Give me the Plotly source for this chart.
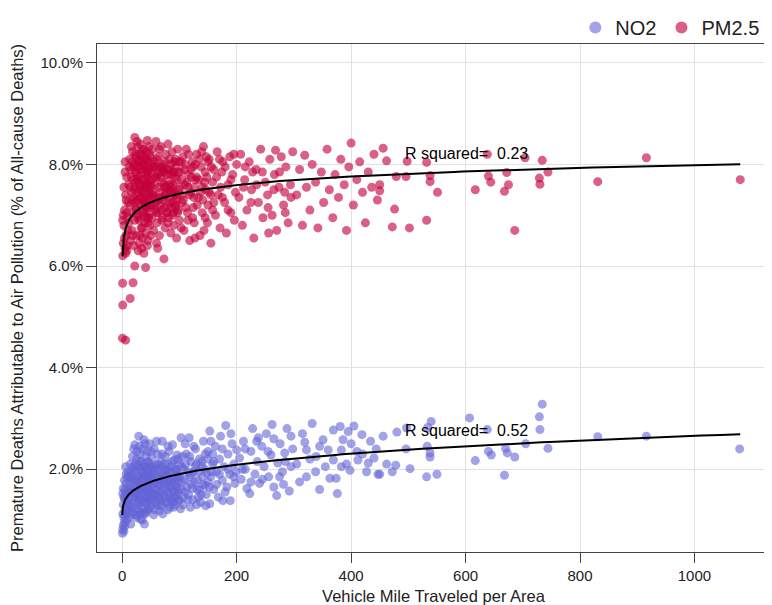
import numpy as np
import plotly.graph_objects as go

# ---------------- data ----------------
no2_points = [
    # x 0-10
    (0.5,0.74),(1,0.82),(1,1.12),(2,0.90),(2,1.30),(3,0.78),(3,1.05),(4,0.95),(4,1.42),(5,1.18),
    (5,1.60),(6,1.08),(6,1.50),(7,1.25),(7,1.72),(8,1.00),(8,1.38),(9,1.55),(9,1.85),(10,1.20),
    (10,1.95),(2,1.62),(4,1.78),(6,2.05),(8,1.12),(3,1.45),(5,0.88),(7,1.90),(9,1.32),(1,1.52),
    # x 10-50
    (11,1.05),(12,1.40),(13,1.75),(14,2.10),(15,0.92),(15,1.55),(16,1.25),(17,1.90),(18,1.60),(18,2.25),
    (19,1.15),(20,1.45),(20,1.80),(21,2.00),(22,2.48),(22,1.30),(23,1.65),(24,1.10),(24,1.95),(25,1.50),
    (25,2.20),(26,1.75),(27,1.35),(28,2.05),(28,1.58),(29,2.65),(29,1.20),(30,1.85),(30,1.45),(31,2.30),
    (32,1.68),(32,1.02),(33,1.95),(34,1.40),(34,2.15),(35,1.78),(35,1.25),(36,2.40),(36,1.60),(37,1.90),
    (38,2.58),(38,1.50),(39,0.92),(39,2.10),(40,1.70),(40,1.35),(41,2.25),(41,1.85),(42,1.55),(42,1.15),
    (43,2.00),(44,1.65),(44,2.35),(45,1.42),(45,1.92),(46,1.75),(46,1.22),(47,2.12),(47,1.58),(48,1.88),
    (48,2.50),(49,1.38),(49,1.68),(50,2.05),(50,1.48),(26,2.35),(33,1.12),(43,1.30),(37,1.15),(31,1.62),
    (11,1.60),(12,1.85),(13,1.30),(14,1.65),(16,1.95),(17,1.45),(18,1.80),(19,2.05),(21,1.55),(22,1.75),
    (23,2.10),(24,1.50),(26,1.45),(27,1.85),(28,1.30),(29,1.70),(30,2.15),(31,1.40),(32,2.00),(33,1.60),
    (34,1.80),(35,2.05),(36,1.35),(37,1.65),(38,1.85),(39,1.45),(40,2.05),(41,1.60),(42,1.90),(43,1.45),
    (44,1.85),(45,2.15),(46,1.55),(47,1.80),(48,1.40),(49,2.00),(15,1.20),(20,1.10),(25,1.05),(30,1.15),
    (35,1.00),(40,1.12),(45,1.20),(20,2.40),(30,2.45),(40,2.50),
    # x 50-100
    (51,1.80),(52,2.22),(53,1.35),(54,1.62),(55,1.95),(56,2.40),(57,1.20),(58,1.75),(59,2.08),(60,1.50),
    (61,1.88),(62,2.30),(63,1.40),(64,1.68),(65,2.00),(66,1.28),(67,2.15),(68,1.58),(69,1.85),(70,2.55),
    (71,1.12),(72,1.72),(73,1.98),(74,1.45),(75,2.25),(76,1.62),(77,1.90),(78,1.35),(79,2.10),(80,1.78),
    (81,1.52),(82,2.35),(83,1.25),(84,1.95),(85,1.65),(86,2.05),(87,1.42),(88,2.48),(89,1.82),(90,1.55),
    (91,2.18),(92,1.30),(93,1.72),(94,2.00),(95,1.48),(96,2.28),(97,1.88),(98,1.60),(99,1.38),(100,2.10),
    (55,1.50),(65,1.70),(75,1.85),(85,1.38),(95,1.95),
    (51,1.55),(52,1.75),(53,2.05),(54,1.90),(56,1.70),(57,1.50),(58,2.00),(59,1.35),(61,1.60),(62,1.85),
    (63,2.10),(64,1.45),(66,1.80),(67,1.55),(68,2.05),(69,1.40),(71,1.90),(72,1.50),(73,1.75),(74,2.10),
    (76,1.35),(77,1.70),(78,2.00),(79,1.55),(81,1.95),(82,1.65),(83,1.80),(84,1.45),(86,1.75),(87,2.15),
    (88,1.60),(89,1.35),(91,1.75),(92,2.00),(93,1.45),(94,1.65),(96,1.85),(97,1.55),(98,2.20),(99,1.75),
    (50,1.25),(55,1.10),(60,1.30),(65,1.18),(70,1.28),(80,1.20),(90,1.25),(100,1.40),(50,2.35),(60,2.55),
    (70,2.30),(80,2.45),
    # x 100-200
    (102,1.22),(103,2.62),(105,1.75),(108,2.00),(110,1.55),(112,2.30),(115,1.40),(117,2.62),(118,1.85),(120,2.15),
    (123,1.62),(125,1.95),(128,2.40),(130,1.30),(132,1.78),(135,2.20),(138,1.50),(140,2.05),(142,2.55),(145,1.68),
    (148,1.92),(150,2.35),(153,1.32),(153,2.75),(155,1.85),(158,2.10),(160,1.60),(163,2.45),(165,1.95),(168,1.45),
    (170,2.20),(172,2.65),(175,1.78),(176,1.38),(178,2.05),(181,2.86),(183,1.65),(185,2.30),(188,1.90),(189,1.38),
    (192,2.50),(195,2.10),(197,1.72),(200,2.38),(199,1.95),
    (105,2.25),(110,2.50),(115,1.95),(120,1.70),(125,2.45),(130,2.10),(135,1.60),(140,1.85),(145,2.30),(150,1.75),
    (155,2.55),(160,2.15),(165,1.70),(170,1.90),(175,2.40),(180,1.55),(185,2.00),(190,2.70),(195,1.85),
    (101,1.85),(103,1.60),(104,2.05),(107,1.45),(109,1.80),(111,2.10),(113,1.65),(116,1.50),(118,2.25),(121,1.90),
    (123,1.40),(126,1.75),(128,2.05),(131,1.60),(134,1.95),(137,1.35),(139,2.15),(141,1.70),(144,2.00),(147,1.50),
    (149,2.20),(152,1.65),(156,1.95),(158,2.30),(106,1.30),(119,1.25),(133,1.45),(146,1.28),
    # x 200-300
    (205,2.22),(208,1.80),(212,2.55),(215,2.00),(218,1.62),(223,1.52),(225,2.35),(228,2.80),(232,1.90),(236,2.15),
    (240,1.72),(244,2.45),(248,2.05),(252,2.70),(256,1.85),(260,2.28),(265,1.65),(270,1.48),(272,2.12),(276,2.50),
    (280,1.95),(284,2.32),(288,2.80),(292,1.57),(295,2.05),(298,2.40),(262,2.88),(238,2.62),(282,1.70),(210,2.00),
    (215,2.40),(225,1.75),(235,2.55),(245,1.80),(255,2.35),(265,2.60),(275,1.85),(285,2.15),(295,2.65),
    # x 300-450
    (319,2.53),(322,2.38),(322,1.85),(332,2.90),(338,1.95),(339,2.25),(345,1.60),(351,2.58),(360,2.38),(363,1.82),
    (369,2.77),(369,2.18),(374,1.82),(376,1.52),(381,2.84),(383,2.38),(383,2.05),(386,2.58),(395,2.74),(398,1.98),
    (410,2.35),(412,2.18),(419,2.68),(427,1.95),(430,2.12),(434,2.55),(440,2.22),(444,2.40),(447,1.90),(305,2.10),
    (310,1.75),(315,2.70),(328,2.20),(355,2.05),(392,2.10),(405,2.85),(400,2.50),(420,2.30),(345,2.45),
    # x 450+
    (450,1.90),(456,2.65),(462,2.10),(472,1.95),(478,2.08),(480,2.73),(496,2.40),(497,2.81),(503,2.01),(532,1.85),
    (533,2.45),(534,2.82),(538,2.24),(538,2.32),(540,2.94),(550,1.90),(607,3.01),(617,2.17),(638,2.78),(640,2.35),
    (645,2.28),(668,1.88),(670,2.41),(673,2.32),(686,2.24),(705,2.50),(729,3.03),(730,2.78),(734,3.28),(744,2.41),
    (831,2.64),(916,2.65),(1079,2.40),
]

pm25_points = [
    # low outliers / x 0-10
    (0.5,4.58),(6,4.54),(1,5.23),(14,5.36),(0.8,5.66),(19,5.67),(22,6.00),(41,5.97),
    (1,6.20),(2,6.45),(3,6.80),(4,7.10),(5,6.35),(6,7.40),(7,6.60),(8,7.75),(9,6.95),(10,7.25),
    (2,7.00),(4,6.55),(6,6.25),(8,7.05),(3,7.55),(5,7.85),(7,7.30),(9,6.40),(10,6.70),(1,6.90),(5,8.05),(8,6.30),
    # x 10-50
    (11,7.60),(12,6.85),(13,8.10),(14,7.20),(15,6.50),(15,7.90),(16,7.45),(17,6.70),(18,8.25),(18,7.05),
    (19,7.70),(20,6.40),(20,7.35),(21,8.00),(22,8.53),(22,6.90),(23,7.55),(24,7.15),(24,8.15),(25,6.60),
    (25,7.80),(26,7.30),(27,8.35),(27,6.95),(28,7.65),(29,7.00),(29,8.05),(30,6.45),(30,7.50),(31,7.90),
    (32,7.20),(32,8.40),(33,6.75),(33,7.70),(34,8.20),(35,7.05),(35,7.45),(36,6.55),(36,8.00),(37,7.85),
    (38,7.25),(38,8.30),(39,6.85),(39,7.60),(40,8.10),(40,7.40),(41,6.65),(41,7.95),(42,7.15),(42,8.25),
    (43,7.55),(43,6.95),(44,8.47),(44,7.75),(45,7.30),(45,6.50),(46,8.05),(46,7.60),(47,7.00),(47,8.35),
    (48,7.45),(48,6.80),(49,7.90),(49,8.15),(50,7.20),(50,6.60),(28,6.30),(34,6.35),(16,8.35),(26,8.45),
    (38,6.25),(44,6.40),(20,7.95),(31,6.60),(37,7.10),(42,7.80),(47,7.70),(23,8.20),(35,8.28),(49,7.35),
    (12,7.95),(14,7.55),(16,7.75),(17,8.05),(19,7.30),(21,7.50),(23,7.85),(24,7.65),(26,7.95),(27,7.45),
    (28,8.10),(29,7.75),(30,8.20),(31,7.35),(32,7.60),(33,8.05),(34,7.50),(35,7.90),(36,7.30),(37,8.15),
    (38,7.70),(39,8.00),(40,7.55),(41,7.25),(42,7.60),(43,8.10),(44,7.15),(45,7.85),(46,7.40),(47,7.95),
    (48,8.20),(49,7.55),(25,7.10),(30,6.90),(35,6.75),(40,7.00),(45,6.85),(18,6.60),(22,7.25),(27,7.70),
    (33,7.35),(39,7.20),(46,6.95),
    # x 50-100
    (51,7.85),(52,6.95),(53,8.30),(54,7.40),(55,6.70),(56,8.05),(57,7.60),(58,7.10),(59,8.45),(60,7.75),
    (61,6.85),(62,7.30),(63,8.15),(64,7.55),(65,6.60),(66,7.95),(67,7.20),(68,8.35),(69,6.90),(70,7.65),
    (71,8.00),(72,7.35),(73,6.14),(74,7.85),(75,6.75),(76,8.20),(77,7.45),(78,7.05),(79,7.90),(80,8.40),
    (81,6.95),(82,7.50),(83,8.10),(84,7.25),(85,6.65),(86,7.80),(87,8.25),(88,7.00),(89,7.60),(90,6.80),
    (91,8.05),(92,7.40),(93,7.15),(94,7.95),(95,6.55),(96,7.70),(97,8.30),(98,7.10),(99,7.50),(100,6.90),
    (55,7.20),(60,6.45),(65,8.30),(70,6.95),(75,7.55),(80,7.20),(85,7.45),(90,7.85),(95,7.30),(62,6.35),
    (51,7.15),(52,7.70),(53,7.45),(54,8.00),(56,7.35),(57,7.95),(58,7.75),(59,7.25),(61,8.10),(62,7.80),
    (63,7.05),(64,7.90),(66,7.45),(67,7.75),(68,7.10),(69,7.95),(71,7.30),(72,7.90),(73,7.60),(74,7.15),
    (76,7.40),(77,7.80),(78,7.55),(79,7.05),(81,7.70),(82,7.90),(83,7.35),(84,7.60),(86,7.15),(87,7.55),
    (88,7.85),(89,7.25),(91,7.45),(92,7.75),(93,8.10),(94,7.20),(96,7.40),(97,7.05),(98,7.85),(99,8.05),
    (50,7.60),(55,7.95),(60,7.05),(65,7.35),(70,7.85),(75,8.05),(80,6.85),(85,8.00),(90,7.05),
    # x 100-200
    (102,7.85),(104,7.25),(106,8.15),(108,6.70),(110,7.60),(112,8.30),(114,7.05),(116,7.80),(118,6.50),(120,7.45),
    (122,8.05),(124,7.15),(126,6.85),(128,7.70),(130,8.20),(133,7.35),(136,6.60),(138,7.95),(140,7.55),(142,8.35),
    (145,6.95),(148,7.75),(150,7.20),(152,8.10),(155,6.45),(158,7.65),(160,7.90),(163,7.00),(166,8.25),(168,7.40),
    (171,6.75),(174,7.85),(176,8.05),(179,7.25),(182,6.65),(185,7.60),(188,8.15),(190,7.05),(193,7.80),(196,6.90),
    (198,7.45),(200,8.00),(172,7.55),(146,7.50),(124,7.95),
    (105,7.40),(110,8.00),(115,7.55),(120,7.90),(125,7.35),(130,7.75),(135,8.10),(140,7.05),(145,7.85),(150,8.05),
    (155,7.40),(160,7.25),(165,7.75),(170,8.10),(175,7.35),(180,7.95),(185,7.10),(190,7.70),(195,8.20),
    (101,7.55),(103,8.05),(104,7.70),(107,7.30),(109,7.90),(111,7.15),(113,7.65),(116,8.20),(118,7.40),(121,7.75),
    (123,6.95),(126,7.55),(128,8.00),(131,7.20),(134,7.70),(137,7.45),(139,8.25),(141,7.30),(144,7.65),(147,8.15),
    (149,6.85),(152,7.45),(156,7.95),(158,7.10),(103,6.75),(115,6.90),(127,6.55),(143,6.70),
    # x 200-300
    (204,7.35),(207,8.20),(210,6.80),(214,7.70),(218,7.10),(222,8.05),(226,7.50),(230,6.55),(234,7.90),(238,7.25),
    (242,8.30),(246,6.95),(250,7.65),(254,7.40),(258,8.10),(262,7.00),(266,7.80),(270,6.70),(274,7.55),(278,8.15),
    (282,7.20),(286,7.95),(290,6.85),(294,7.60),(298,8.25),(228,7.85),(256,6.65),(284,7.45),(212,7.55),(268,8.28),
    (215,7.95),(225,7.25),(235,7.60),(245,7.85),(255,7.15),(265,7.50),(275,7.85),(285,7.05),(295,7.35),
    # x 300-450
    (305,7.40),(310,7.90),(315,6.80),(319,8.18),(322,7.55),(328,7.10),(332,8.00),(338,7.65),(342,6.75),(348,7.85),
    (352,7.25),(358,8.30),(362,7.50),(368,6.95),(372,7.80),(378,7.35),(382,8.10),(388,7.60),(392,6.70),(396,7.95),
    (400,8.42),(404,7.20),(410,7.70),(415,8.05),(420,7.45),(425,6.85),(430,7.85),(436,7.55),(440,8.20),(446,7.30),
    # x 450+
    (450,7.48),(450,7.60),(456,8.32),(462,8.07),(472,6.77),(476,7.12),(479,7.76),(496,7.76),(498,8.06),(502,6.75),
    (532,8.04),(532,6.90),(538,7.78),(538,7.66),(551,7.45),(617,7.50),(638,8.20),(640,7.77),(644,7.65),(668,7.47),
    (672,7.84),(675,7.60),(686,6.70),(704,8.13),(729,7.73),(730,7.61),(734,8.08),(744,7.85),(831,7.66),(916,8.13),
    (1080,7.70),
]

# fitted-curve parameters
pm25_fit = {"a": 6.30, "b": 0.244, "xmin": 0.64, "xmax": 1080}          # y = a + b*ln(x)
no2_fit = {"a": 0.941, "b": 0.305, "c": 0.25, "xmin": 0.07, "xmax": 1080}  # y = a + b*x^c

r2_labels = [("R squared=  0.23", 601, 8.21), ("R squared=  0.52", 601, 2.77)]

x_ticks = [0, 200, 400, 600, 800, 1000]
y_ticks = [2, 4, 6, 8, 10]

# ---------------- figure ----------------
no2_x, no2_y = zip(*no2_points)
pm_x, pm_y = zip(*pm25_points)

FONT = "Arial, 'Liberation Sans', sans-serif"

fig = go.Figure()
fig.add_trace(go.Scatter(
    x=no2_x, y=no2_y, mode="markers", name="NO2",
    marker=dict(color="rgb(100,100,215)", size=9, opacity=0.6, line=dict(width=0)),
))
fig.add_trace(go.Scatter(
    x=pm_x, y=pm_y, mode="markers", name="PM2.5",
    marker=dict(color="rgb(196,0,58)", size=9, opacity=0.62, line=dict(width=0)),
))

xf = np.geomspace(pm25_fit["xmin"], pm25_fit["xmax"], 300)
fig.add_trace(go.Scatter(
    x=xf, y=pm25_fit["a"] + pm25_fit["b"] * np.log(xf), mode="lines",
    line=dict(color="black", width=2), showlegend=False, hoverinfo="skip",
))
xn = np.geomspace(no2_fit["xmin"], no2_fit["xmax"], 300)
fig.add_trace(go.Scatter(
    x=xn, y=no2_fit["a"] + no2_fit["b"] * xn ** no2_fit["c"], mode="lines",
    line=dict(color="black", width=2), showlegend=False, hoverinfo="skip",
))

for txt, lx, ly in r2_labels:
    fig.add_annotation(x=lx, y=ly, text=txt.replace("  ", "\u00a0 "), showarrow=False,
                       font=dict(size=16, color="black", family=FONT))

axis_common = dict(
    showgrid=True, gridcolor="#e1e1e1", gridwidth=1, zeroline=False,
    showline=True, linecolor="#444", linewidth=1, mirror=True,
    ticks="outside", ticklen=10, tickcolor="#444", tickwidth=1,
    tickfont=dict(size=15, color="#222", family=FONT), automargin=False,
)

# the page body adds an 8px offset, so the figure is 8px smaller than the window
fig.update_layout(
    width=764, height=597,
    margin=dict(l=89, r=2, t=36, b=53, autoexpand=False),
    paper_bgcolor="white", plot_bgcolor="white",
    font=dict(family=FONT, size=16, color="#222"),
    showlegend=True,
    legend=dict(orientation="h", xref="container", yref="container",
                x=0.99, xanchor="right", y=1.0, yanchor="top",
                bgcolor="rgba(0,0,0,0)",
                font=dict(size=20, color="#222", family=FONT), itemsizing="constant"),
    xaxis=dict(range=[-44.0, 1132], tickmode="array", tickvals=x_ticks,
               ticktext=[str(v) for v in x_ticks],
               title=dict(text="Vehicle Mile Traveled per Area", font=dict(size=16.5), standoff=9),
               **axis_common),
    yaxis=dict(range=[0.37, 10.37], tickmode="array", tickvals=y_ticks,
               ticktext=[f"{v:.1f}%" for v in y_ticks],
               title=dict(text="Premature Deaths Attributable to Air Pollution (% of All-cause Deaths)",
                          font=dict(size=16.5), standoff=12),
               **axis_common),
)

fig.write_html("out.html")
